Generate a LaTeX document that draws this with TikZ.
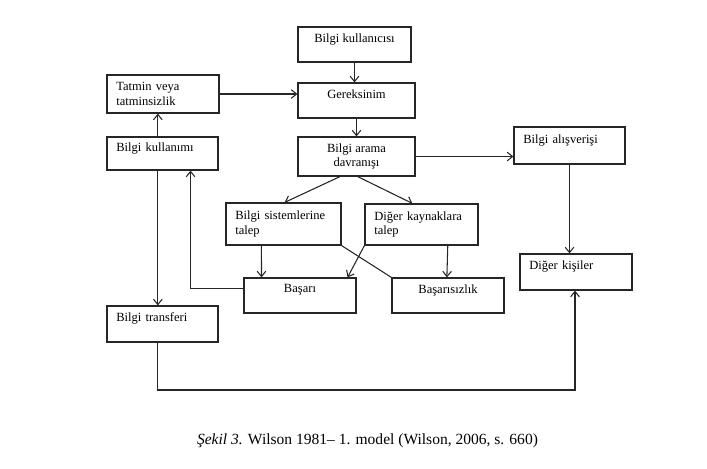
\documentclass[tikz,border=0pt]{standalone}
\usepackage{fontspec}
\setmainfont{Liberation Serif}
\usetikzlibrary{calc,arrows.meta,shadows}

\begin{document}
\begin{tikzpicture}[x=0.75pt,y=-0.75pt,>={Straight Barb[length=4pt,width=6.5pt]},
    kutu/.style={draw=black!85, line width=0.9pt, fill=white, inner xsep=7pt,
      node font=\fontsize{9.4}{11}\selectfont,
      drop shadow={shadow xshift=0.6pt, shadow yshift=-0.7pt, opacity=1, fill=black!75}},
    sol/.style={kutu, align=left},
    orta/.style={kutu, align=center},
    tek/.style={text depth=10pt},
    ok/.style={->, line width=0.8pt, black!85}]
  \useasboundingbox (0,0) rectangle (707,468);

  % boxes (centre in px, size in pt)
  \node[orta, tek, line width=1.6pt, minimum width=84.75pt, minimum height=26.25pt] (kul) at (354.5,44.5) {Bilgi kullanıcısı};
  \node[orta, tek, minimum width=87.75pt, minimum height=26.25pt] (ger) at (356.5,100.5) {Gereksinim};
  \node[sol, text width=70pt, minimum height=28.5pt] (tat) at (163,94) {Tatmin veya\\tatminsizlik};
  \node[sol, tek, text width=69.25pt, minimum height=24.75pt] (kull) at (162.5,153.5) {Bilgi kullanımı};
  \node[orta, minimum width=87.75pt, minimum height=29.25pt] (ara) at (356.5,156.5) {Bilgi arama\\davranışı};
  \node[sol, text width=72.25pt, minimum height=31.5pt] (sis) at (283.5,224) {Bilgi sistemlerine\\talep};
  \node[sol, text width=70.75pt, minimum height=30.75pt] (kay) at (421.5,224.5) {Diğer kaynaklara\\talep};
  \node[orta, tek, minimum width=84pt, minimum height=26.25pt] (bas) at (300,295.5) {Başarı};
  \node[orta, tek, minimum width=84pt, minimum height=26.25pt] (bsz) at (448,295.5) {Başarısızlık};
  \node[sol, tek, text width=69.25pt, minimum height=27.75pt] (als) at (569.5,145.5) {Bilgi alışverişi};
  \node[sol, tek, text width=70pt, minimum height=27pt] (dgk) at (576,272) {Diğer kişiler};
  \node[sol, tek, text width=69.25pt, minimum height=27pt] (trf) at (162.5,324) {Bilgi transferi};

  % main chain
  \draw[ok] (kul.south) -- (kul.south |- ger.north);
  \draw[ok] (ger.south) -- (ara.north);
  \draw[ok] (tat.east) -- (tat.east -| ger.west);
  \draw[ok] ([xshift=-3.5pt]kull.north) -- ([xshift=-3.5pt]kull.north |- tat.south);
  \draw[ok] ([xshift=-3.5pt]kull.south) -- ([xshift=-3.5pt]kull.south |- trf.north);

  % search branches
  \draw[ok] ($(ara.south west)!0.36!(ara.south east)$) -- ($(sis.north west)!0.51!(sis.north east)$);
  \draw[ok] ($(ara.south west)!0.51!(ara.south east)$) -- ($(kay.north west)!0.42!(kay.north east)$);
  \draw[ok] ($(sis.south west)!0.31!(sis.south east)$) -- ($(bas.north west)!0.16!(bas.north east)$);
  \draw[ok] ($(kay.south west)!0.73!(kay.south east)$) -- ($(bsz.north west)!0.49!(bsz.north east)$);
  \draw[ok] (kay.south west) -- ($(bas.north west)!0.92!(bas.north east)$);
  \draw[line width=0.8pt, black!85] (sis.south east) -- (bsz.north west);

  % success back to use
  \draw[ok] ([yshift=5.5pt]bas.west) -| ($(kull.south west)!0.75!(kull.south east)$);

  % exchange and transfer
  \draw[ok] (ara.east) -- (ara.east -| als.west);
  \draw[ok] (als.south) -- (als.south |- dgk.north);
  \coordinate (alt) at (575,390);
  \draw[ok] ([xshift=-3.5pt]trf.south) |- (alt) -- (alt |- dgk.south);

  % caption
  \node[font=\fontsize{11.65}{14}\selectfont] (cap) at (367.5,441) {\textit{Şekil 3.} Wilson 1981– 1. model (Wilson, 2006, s. 660)};
\end{tikzpicture}
\end{document}
